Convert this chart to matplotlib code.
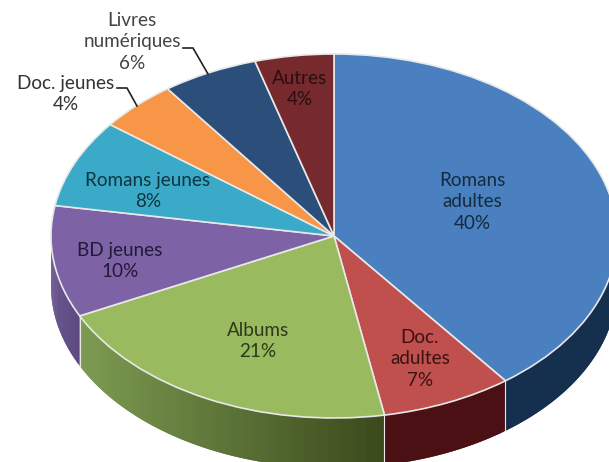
import numpy as np
import matplotlib
matplotlib.use('Agg')
import matplotlib.pyplot as plt
from matplotlib.colors import to_rgb

plt.rcParams['font.family'] = ['Lato', 'DejaVu Sans']

names = ['Romans\nadultes', 'Doc.\nadultes', 'Albums', 'BD jeunes', 'Romans jeunes',
         'Doc. jeunes', 'Livres\nnumériques', 'Autres']
percent_labels = [40, 7, 21, 10, 8, 4, 6, 4]
# slice sizes as measured on the picture, labels above are rounded
values = [39.6, 7.5, 20.6, 9.9, 7.8, 4.5, 5.5, 4.5]
colors = ['#4a80bf', '#c0504d', '#9aba5f', '#7d62a6', '#3aaac8', '#f79646', '#2b4f7a', '#772a2d']
side_left = ['#15304f', '#4a1014', '#7d9c52', '#6a5590', '#2a7f96', '#b86f30', '#1c3654', '#4f1a1c']
side_right = ['#15304f', '#4a1014', '#3b4a1c', '#5d4a80', '#2a7f96', '#b86f30', '#1c3654', '#4f1a1c']

# ellipse of the top face, in pixels
cx, cy, rx, ry, depth = 334, 236, 283, 182, 50


def px(x, y):
    return (x - cx) / rx, (cy - y) / ry


fig = plt.figure(figsize=(6.09, 4.62), dpi=100)
ax = fig.add_axes([0, 0, 1, 1])

d = depth / ry
edges = np.cumsum([0] + values) / sum(values) * 2 * np.pi

# side wall, only the front half shows
for i in range(len(values)):
    a0 = max(edges[i], np.pi / 2)
    a1 = min(edges[i + 1], 3 * np.pi / 2)
    if a1 <= a0:
        continue
    ang = np.linspace(a0, a1, 60)
    xs = np.sin(ang)
    ys = np.cos(ang)
    c0 = np.array(to_rgb(side_left[i]))
    c1 = np.array(to_rgb(side_right[i]))
    for j in range(len(ang) - 1):
        t = (xs[j] - xs.min()) / (xs.max() - xs.min())
        col = c0 + (c1 - c0) * t
        # overlap the next strip so no seams show
        k = min(j + 2, len(ang) - 1)
        ax.fill([xs[j], *xs[j + 1:k + 1], *xs[j + 1:k + 1][::-1], xs[j]],
                [ys[j], *ys[j + 1:k + 1], *(ys[j + 1:k + 1][::-1] - d), ys[j] - d],
                color=col, lw=0, zorder=1 + j * 0.001)

# white seams between side pieces
for e in edges:
    if np.pi / 2 < e < 3 * np.pi / 2:
        ax.plot([np.sin(e), np.sin(e)], [np.cos(e), np.cos(e) - d],
                color='#e8e8e8', lw=0.8, zorder=2)

ax.pie(values, colors=colors, startangle=90, counterclock=False,
       wedgeprops={'edgecolor': '#e8e8e8', 'linewidth': 1.2, 'zorder': 3})
ax.set_aspect('auto')
ax.set_xlim(px(0, 0)[0], px(609, 0)[0])
ax.set_ylim(px(0, 462)[1], px(0, 0)[1])
ax.axis('off')

# label centres in pixels
label_pos = [(472, 202), (420, 359), (258, 341), (120, 261), (148, 191),
             (66, 94), (132, 42), (300, 89)]
text_cols = ['#142a40', '#3a1214', '#2c3a18', '#221a36', '#0e3540', '#333333', '#444444', '#2a0e10']
for name, val, pos, tc in zip(names, percent_labels, label_pos, text_cols):
    ax.text(*px(*pos), f'{name}\n{val}%', ha='center', va='center', fontsize=13.6,
            color=tc, linespacing=1.3, zorder=5)

# leader lines
ax.plot(*zip(px(183, 48), px(193, 48), px(208, 74)), color='#222222', lw=1.2, zorder=4)
ax.plot(*zip(px(117, 88), px(127, 88), px(137, 106)), color='#222222', lw=1.2, zorder=4)

fig.savefig('out.png', dpi=100)
